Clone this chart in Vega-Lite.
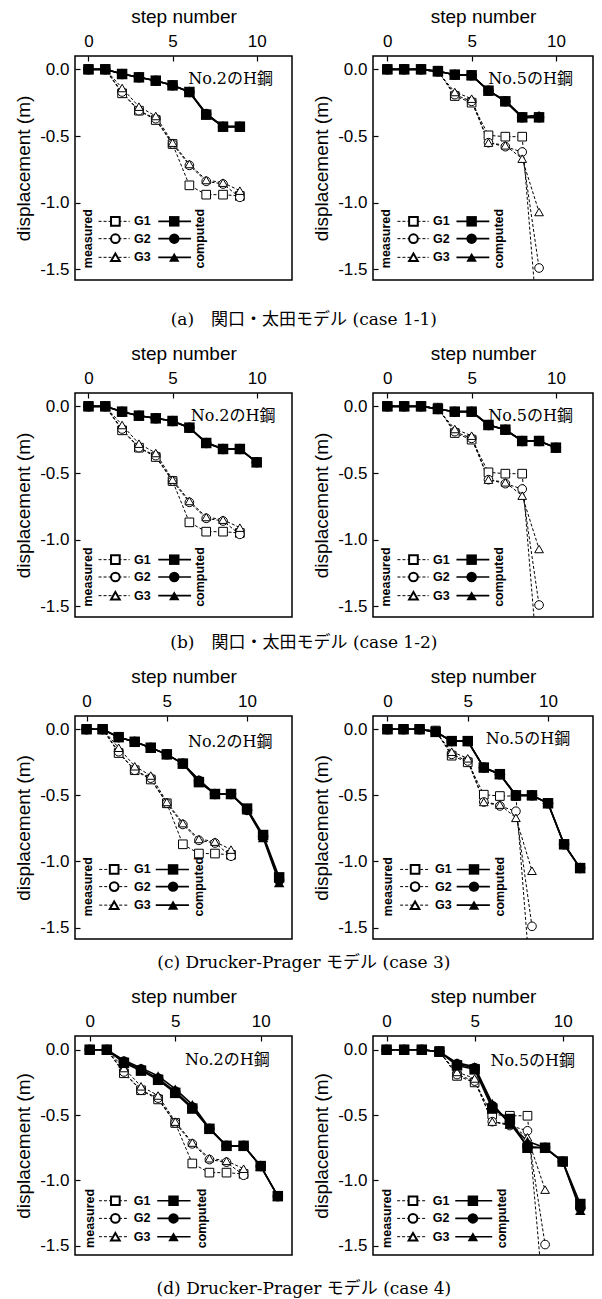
{
"$schema":"https://vega.github.io/schema/vega-lite/v6.json",
"background":"white",
"padding":{"left":13,"top":6,"right":4,"bottom":4},
"config":{
 "view":{"stroke":"black","strokeWidth":1.5},
 "axis":{"grid":false,"domain":false,"tickColor":"black","tickSize":-5,"tickWidth":1.2,"labelColor":"black","titleColor":"black","labelFont":"Liberation Sans","titleFont":"Liberation Sans","labelFontSize":17,"titleFontSize":19,"titleFontWeight":"normal","labelPadding":11,"titlePadding":6},
 "mark":{"color":"black"},
 "point":{"opacity":1},
 "text":{"font":"Liberation Sans","fontSize":12.5,"fontWeight":"bold","align":"center","baseline":"middle"},
 "title":{"font":"DejaVu Serif, Noto Sans CJK JP","fontSize":17,"fontWeight":"normal","color":"black","anchor":"middle"},
 "locale":{"number":{"decimal":".","thousands":",","grouping":[3],"currency":["$",""],"minus":"-"}}
},
"datasets":{
"m2":[{"s":0,"G1":0,"G2":0,"G3":0},{"s":1,"G1":0,"G2":0,"G3":0},{"s":2,"G1":-0.18,"G2":-0.17,"G3":-0.14},{"s":3,"G1":-0.31,"G2":-0.31,"G3":-0.28},{"s":4,"G1":-0.38,"G2":-0.37,"G3":-0.35},{"s":5,"G1":-0.56,"G2":-0.56,"G3":-0.55},{"s":6,"G1":-0.87,"G2":-0.72,"G3":-0.71},{"s":7,"G1":-0.94,"G2":-0.84,"G3":-0.83},{"s":8,"G1":-0.94,"G2":-0.86,"G3":-0.85},{"s":9,"G1":-0.95,"G2":-0.96,"G3":-0.91}],
"m5":[{"s":0,"G1":0,"G2":0,"G3":0},{"s":1,"G1":0,"G2":0,"G3":0},{"s":2,"G1":0,"G2":0,"G3":0},{"s":3,"G1":-0.01,"G2":-0.015,"G3":-0.02},{"s":4,"G1":-0.2,"G2":-0.19,"G3":-0.17},{"s":5,"G1":-0.25,"G2":-0.24,"G3":-0.22},{"s":6,"G1":-0.495,"G2":-0.55,"G3":-0.55},{"s":7,"G1":-0.505,"G2":-0.58,"G3":-0.57},{"s":8,"G1":-0.505,"G2":-0.62,"G3":-0.67},{"s":9,"G1":-2.05,"G2":-1.49,"G3":-1.07}],
"c11_2":[{"s":0,"G1":0,"G2":0,"G3":0},{"s":1,"G1":0,"G2":0,"G3":0},{"s":2,"G1":-0.035,"G2":-0.035,"G3":-0.035},{"s":3,"G1":-0.06,"G2":-0.06,"G3":-0.06},{"s":4,"G1":-0.085,"G2":-0.085,"G3":-0.085},{"s":5,"G1":-0.12,"G2":-0.12,"G3":-0.12},{"s":6,"G1":-0.17,"G2":-0.17,"G3":-0.17},{"s":7,"G1":-0.34,"G2":-0.335,"G3":-0.33},{"s":8,"G1":-0.43,"G2":-0.43,"G3":-0.43},{"s":9,"G1":-0.43,"G2":-0.43,"G3":-0.43}],
"c11_5":[{"s":0,"G1":0,"G2":0,"G3":0},{"s":1,"G1":0,"G2":0,"G3":0},{"s":2,"G1":0,"G2":0,"G3":0},{"s":3,"G1":-0.015,"G2":-0.015,"G3":-0.015},{"s":4,"G1":-0.04,"G2":-0.04,"G3":-0.04},{"s":5,"G1":-0.045,"G2":-0.045,"G3":-0.045},{"s":6,"G1":-0.16,"G2":-0.16,"G3":-0.16},{"s":7,"G1":-0.24,"G2":-0.24,"G3":-0.235},{"s":8,"G1":-0.36,"G2":-0.36,"G3":-0.355},{"s":9,"G1":-0.36,"G2":-0.36,"G3":-0.345}],
"c12_2":[{"s":0,"G1":0,"G2":0,"G3":0},{"s":1,"G1":0,"G2":0,"G3":0},{"s":2,"G1":-0.04,"G2":-0.04,"G3":-0.04},{"s":3,"G1":-0.07,"G2":-0.07,"G3":-0.07},{"s":4,"G1":-0.09,"G2":-0.09,"G3":-0.09},{"s":5,"G1":-0.11,"G2":-0.11,"G3":-0.11},{"s":6,"G1":-0.16,"G2":-0.16,"G3":-0.16},{"s":7,"G1":-0.275,"G2":-0.275,"G3":-0.27},{"s":8,"G1":-0.32,"G2":-0.32,"G3":-0.32},{"s":9,"G1":-0.32,"G2":-0.32,"G3":-0.32},{"s":10,"G1":-0.42,"G2":-0.42,"G3":-0.42}],
"c12_5":[{"s":0,"G1":0,"G2":0,"G3":0},{"s":1,"G1":0,"G2":0,"G3":0},{"s":2,"G1":0,"G2":0,"G3":0},{"s":3,"G1":-0.02,"G2":-0.02,"G3":-0.02},{"s":4,"G1":-0.04,"G2":-0.04,"G3":-0.04},{"s":5,"G1":-0.04,"G2":-0.04,"G3":-0.04},{"s":6,"G1":-0.14,"G2":-0.14,"G3":-0.14},{"s":7,"G1":-0.175,"G2":-0.175,"G3":-0.175},{"s":8,"G1":-0.26,"G2":-0.26,"G3":-0.26},{"s":9,"G1":-0.26,"G2":-0.26,"G3":-0.26},{"s":10,"G1":-0.31,"G2":-0.31,"G3":-0.31}],
"c3_2":[{"s":0,"G1":0,"G2":0,"G3":0},{"s":1,"G1":0,"G2":0,"G3":0},{"s":2,"G1":-0.06,"G2":-0.06,"G3":-0.06},{"s":3,"G1":-0.095,"G2":-0.095,"G3":-0.095},{"s":4,"G1":-0.14,"G2":-0.14,"G3":-0.14},{"s":5,"G1":-0.19,"G2":-0.19,"G3":-0.19},{"s":6,"G1":-0.26,"G2":-0.26,"G3":-0.26},{"s":7,"G1":-0.4,"G2":-0.39,"G3":-0.38},{"s":8,"G1":-0.49,"G2":-0.49,"G3":-0.49},{"s":9,"G1":-0.49,"G2":-0.49,"G3":-0.49},{"s":10,"G1":-0.6,"G2":-0.61,"G3":-0.61},{"s":11,"G1":-0.8,"G2":-0.81,"G3":-0.82},{"s":12,"G1":-1.12,"G2":-1.14,"G3":-1.16}],
"c3_5":[{"s":0,"G1":0,"G2":0,"G3":0},{"s":1,"G1":0,"G2":0,"G3":0},{"s":2,"G1":0,"G2":0,"G3":0},{"s":3,"G1":-0.02,"G2":-0.02,"G3":-0.02},{"s":4,"G1":-0.09,"G2":-0.09,"G3":-0.09},{"s":5,"G1":-0.09,"G2":-0.09,"G3":-0.09},{"s":6,"G1":-0.29,"G2":-0.29,"G3":-0.29},{"s":7,"G1":-0.34,"G2":-0.34,"G3":-0.34},{"s":8,"G1":-0.5,"G2":-0.5,"G3":-0.5},{"s":9,"G1":-0.5,"G2":-0.5,"G3":-0.5},{"s":10,"G1":-0.56,"G2":-0.56,"G3":-0.56},{"s":11,"G1":-0.87,"G2":-0.87,"G3":-0.87},{"s":12,"G1":-1.05,"G2":-1.05,"G3":-1.05}],
"c4_2":[{"s":0,"G1":0,"G2":0,"G3":0},{"s":1,"G1":0,"G2":0,"G3":0},{"s":2,"G1":-0.1,"G2":-0.09,"G3":-0.08},{"s":3,"G1":-0.16,"G2":-0.15,"G3":-0.14},{"s":4,"G1":-0.23,"G2":-0.22,"G3":-0.2},{"s":5,"G1":-0.33,"G2":-0.32,"G3":-0.3},{"s":6,"G1":-0.45,"G2":-0.44,"G3":-0.42},{"s":7,"G1":-0.605,"G2":-0.605,"G3":-0.6},{"s":8,"G1":-0.735,"G2":-0.735,"G3":-0.735},{"s":9,"G1":-0.735,"G2":-0.735,"G3":-0.735},{"s":10,"G1":-0.89,"G2":-0.89,"G3":-0.89},{"s":11,"G1":-1.12,"G2":-1.12,"G3":-1.12}],
"c4_5":[{"s":0,"G1":0,"G2":0,"G3":0},{"s":1,"G1":0,"G2":0,"G3":0},{"s":2,"G1":0,"G2":0,"G3":0},{"s":3,"G1":-0.015,"G2":-0.015,"G3":-0.015},{"s":4,"G1":-0.12,"G2":-0.11,"G3":-0.1},{"s":5,"G1":-0.15,"G2":-0.14,"G3":-0.13},{"s":6,"G1":-0.45,"G2":-0.43,"G3":-0.41},{"s":7,"G1":-0.53,"G2":-0.56,"G3":-0.57},{"s":8,"G1":-0.75,"G2":-0.74,"G3":-0.7},{"s":9,"G1":-0.75,"G2":-0.75,"G3":-0.75},{"s":10,"G1":-0.855,"G2":-0.855,"G3":-0.855},{"s":11,"G1":-1.18,"G2":-1.21,"G3":-1.23}]
},
"spacing":15,
"vconcat":[
{"spacing":18,"title":{"text":"(a)　関口・太田モデル  (case 1-1)","orient":"bottom","offset":31},
"hconcat":[
{"width":217,"height":224,"data":{"values":[{}]},
"layer":[
{"encoding":{"x":{"field":"s","type":"quantitative","title":"step number","scale":{"domain":[-0.8,12.1],"nice":false,"zero":false},"axis":{"orient":"top","values":[0,5,10]}},"y":{"field":"d","type":"quantitative","title":"displacement (m)","scale":{"domain":[-1.58,0.1],"nice":false,"zero":false},"axis":{"values":[0,-0.5,-1,-1.5],"format":".1f"}}},
"layer":[
{"data":{"name":"m2"},"transform":[{"fold":["G1","G2","G3"],"as":["g","d"]}],"mark":{"type":"line","strokeDash":[3,2],"strokeWidth":1,"clip":true},"encoding":{"detail":{"field":"g"}}},
{"data":{"name":"c11_2"},"transform":[{"fold":["G1","G2","G3"],"as":["g","d"]}],"mark":{"type":"line","strokeWidth":1.6,"clip":true},"encoding":{"detail":{"field":"g"}}},
{"data":{"name":"m2"},"transform":[{"fold":["G1","G2","G3"],"as":["g","d"]}],"mark":{"type":"point","fill":"white","stroke":"black","strokeWidth":1,"size":75,"clip":true},"encoding":{"shape":{"field":"g","type":"nominal","scale":{"domain":["G1","G2","G3"],"range":["square","circle","triangle-up"]},"legend":null}}},
{"data":{"name":"c11_2"},"transform":[{"fold":["G1","G2","G3"],"as":["g","d"]}],"mark":{"type":"point","filled":true,"size":110,"clip":true},"encoding":{"shape":{"field":"g","type":"nominal","scale":{"domain":["G1","G2","G3"],"range":["square","circle","triangle-up"]},"legend":null}}}
]},
{"mark":{"type":"text","text":"No.2のH鋼","font":"DejaVu Serif, Noto Sans CJK JP","fontSize":16,"fontWeight":"normal"},"encoding":{"x":{"datum":8.45},"y":{"datum":-0.07}}},
{"mark":{"type":"text","text":"measured","angle":270},"encoding":{"x":{"datum":0},"y":{"datum":-1.27}}},
{"mark":{"type":"text","text":"computed","angle":270},"encoding":{"x":{"datum":6.65},"y":{"datum":-1.27}}},
{"mark":{"type":"rule","strokeDash":[3,2]},"encoding":{"x":{"datum":0.6},"x2":{"datum":2.45},"y":{"datum":-1.14}}},
{"mark":{"type":"rule","strokeDash":[3,2]},"encoding":{"x":{"datum":0.6},"x2":{"datum":2.45},"y":{"datum":-1.27}}},
{"mark":{"type":"rule","strokeDash":[3,2]},"encoding":{"x":{"datum":0.6},"x2":{"datum":2.45},"y":{"datum":-1.41}}},
{"mark":{"type":"rule","strokeWidth":1.6},"encoding":{"x":{"datum":4.15},"x2":{"datum":6.1},"y":{"datum":-1.14}}},
{"mark":{"type":"rule","strokeWidth":1.6},"encoding":{"x":{"datum":4.15},"x2":{"datum":6.1},"y":{"datum":-1.27}}},
{"mark":{"type":"rule","strokeWidth":1.6},"encoding":{"x":{"datum":4.15},"x2":{"datum":6.1},"y":{"datum":-1.41}}},
{"mark":{"type":"point","shape":"square","fill":"white","stroke":"black","size":75},"encoding":{"x":{"datum":1.6},"y":{"datum":-1.14}}},
{"mark":{"type":"point","shape":"circle","fill":"white","stroke":"black","size":75},"encoding":{"x":{"datum":1.6},"y":{"datum":-1.27}}},
{"mark":{"type":"point","shape":"triangle-up","fill":"white","stroke":"black","size":75},"encoding":{"x":{"datum":1.6},"y":{"datum":-1.41}}},
{"mark":{"type":"point","shape":"square","filled":true,"size":110},"encoding":{"x":{"datum":5.1},"y":{"datum":-1.14}}},
{"mark":{"type":"point","shape":"circle","filled":true,"size":110},"encoding":{"x":{"datum":5.1},"y":{"datum":-1.27}}},
{"mark":{"type":"point","shape":"triangle-up","filled":true,"size":110},"encoding":{"x":{"datum":5.1},"y":{"datum":-1.41}}},
{"mark":{"type":"text","text":"G1"},"encoding":{"x":{"datum":3.2},"y":{"datum":-1.14}}},
{"mark":{"type":"text","text":"G2"},"encoding":{"x":{"datum":3.2},"y":{"datum":-1.27}}},
{"mark":{"type":"text","text":"G3"},"encoding":{"x":{"datum":3.2},"y":{"datum":-1.41}}}
]},
{"width":220,"height":224,"data":{"values":[{}]},
"layer":[
{"encoding":{"x":{"field":"s","type":"quantitative","title":"step number","scale":{"domain":[-0.85,12.2],"nice":false,"zero":false},"axis":{"orient":"top","values":[0,5,10]}},"y":{"field":"d","type":"quantitative","title":"displacement (m)","scale":{"domain":[-1.58,0.1],"nice":false,"zero":false},"axis":{"values":[0,-0.5,-1,-1.5],"format":".1f"}}},
"layer":[
{"data":{"name":"m5"},"transform":[{"fold":["G1","G2","G3"],"as":["g","d"]}],"mark":{"type":"line","strokeDash":[3,2],"strokeWidth":1,"clip":true},"encoding":{"detail":{"field":"g"}}},
{"data":{"name":"c11_5"},"transform":[{"fold":["G1","G2","G3"],"as":["g","d"]}],"mark":{"type":"line","strokeWidth":1.6,"clip":true},"encoding":{"detail":{"field":"g"}}},
{"data":{"name":"m5"},"transform":[{"fold":["G1","G2","G3"],"as":["g","d"]}],"mark":{"type":"point","fill":"white","stroke":"black","strokeWidth":1,"size":75,"clip":true},"encoding":{"shape":{"field":"g","type":"nominal","scale":{"domain":["G1","G2","G3"],"range":["square","circle","triangle-up"]},"legend":null}}},
{"data":{"name":"c11_5"},"transform":[{"fold":["G1","G2","G3"],"as":["g","d"]}],"mark":{"type":"point","filled":true,"size":110,"clip":true},"encoding":{"shape":{"field":"g","type":"nominal","scale":{"domain":["G1","G2","G3"],"range":["square","circle","triangle-up"]},"legend":null}}}
]},
{"mark":{"type":"text","text":"No.5のH鋼","font":"DejaVu Serif, Noto Sans CJK JP","fontSize":16,"fontWeight":"normal"},"encoding":{"x":{"datum":8.5},"y":{"datum":-0.075}}},
{"mark":{"type":"text","text":"measured","angle":270},"encoding":{"x":{"datum":-0.05},"y":{"datum":-1.27}}},
{"mark":{"type":"text","text":"computed","angle":270},"encoding":{"x":{"datum":6.65},"y":{"datum":-1.27}}},
{"mark":{"type":"rule","strokeDash":[3,2]},"encoding":{"x":{"datum":0.6},"x2":{"datum":2.45},"y":{"datum":-1.14}}},
{"mark":{"type":"rule","strokeDash":[3,2]},"encoding":{"x":{"datum":0.6},"x2":{"datum":2.45},"y":{"datum":-1.27}}},
{"mark":{"type":"rule","strokeDash":[3,2]},"encoding":{"x":{"datum":0.6},"x2":{"datum":2.45},"y":{"datum":-1.41}}},
{"mark":{"type":"rule","strokeWidth":1.6},"encoding":{"x":{"datum":4.1},"x2":{"datum":6.05},"y":{"datum":-1.14}}},
{"mark":{"type":"rule","strokeWidth":1.6},"encoding":{"x":{"datum":4.1},"x2":{"datum":6.05},"y":{"datum":-1.27}}},
{"mark":{"type":"rule","strokeWidth":1.6},"encoding":{"x":{"datum":4.1},"x2":{"datum":6.05},"y":{"datum":-1.41}}},
{"mark":{"type":"point","shape":"square","fill":"white","stroke":"black","size":75},"encoding":{"x":{"datum":1.55},"y":{"datum":-1.14}}},
{"mark":{"type":"point","shape":"circle","fill":"white","stroke":"black","size":75},"encoding":{"x":{"datum":1.55},"y":{"datum":-1.27}}},
{"mark":{"type":"point","shape":"triangle-up","fill":"white","stroke":"black","size":75},"encoding":{"x":{"datum":1.55},"y":{"datum":-1.41}}},
{"mark":{"type":"point","shape":"square","filled":true,"size":110},"encoding":{"x":{"datum":5.0},"y":{"datum":-1.14}}},
{"mark":{"type":"point","shape":"circle","filled":true,"size":110},"encoding":{"x":{"datum":5.0},"y":{"datum":-1.27}}},
{"mark":{"type":"point","shape":"triangle-up","filled":true,"size":110},"encoding":{"x":{"datum":5.0},"y":{"datum":-1.41}}},
{"mark":{"type":"text","text":"G1"},"encoding":{"x":{"datum":3.2},"y":{"datum":-1.14}}},
{"mark":{"type":"text","text":"G2"},"encoding":{"x":{"datum":3.2},"y":{"datum":-1.27}}},
{"mark":{"type":"text","text":"G3"},"encoding":{"x":{"datum":3.2},"y":{"datum":-1.41}}}
]}
]},
{"spacing":18,"title":{"text":"(b)　関口・太田モデル  (case 1-2)","orient":"bottom","offset":17},
"hconcat":[
{"width":217,"height":224,"data":{"values":[{}]},
"layer":[
{"encoding":{"x":{"field":"s","type":"quantitative","title":"step number","scale":{"domain":[-0.8,12.1],"nice":false,"zero":false},"axis":{"orient":"top","values":[0,5,10]}},"y":{"field":"d","type":"quantitative","title":"displacement (m)","scale":{"domain":[-1.58,0.1],"nice":false,"zero":false},"axis":{"values":[0,-0.5,-1,-1.5],"format":".1f"}}},
"layer":[
{"data":{"name":"m2"},"transform":[{"fold":["G1","G2","G3"],"as":["g","d"]}],"mark":{"type":"line","strokeDash":[3,2],"strokeWidth":1,"clip":true},"encoding":{"detail":{"field":"g"}}},
{"data":{"name":"c12_2"},"transform":[{"fold":["G1","G2","G3"],"as":["g","d"]}],"mark":{"type":"line","strokeWidth":1.6,"clip":true},"encoding":{"detail":{"field":"g"}}},
{"data":{"name":"m2"},"transform":[{"fold":["G1","G2","G3"],"as":["g","d"]}],"mark":{"type":"point","fill":"white","stroke":"black","strokeWidth":1,"size":75,"clip":true},"encoding":{"shape":{"field":"g","type":"nominal","scale":{"domain":["G1","G2","G3"],"range":["square","circle","triangle-up"]},"legend":null}}},
{"data":{"name":"c12_2"},"transform":[{"fold":["G1","G2","G3"],"as":["g","d"]}],"mark":{"type":"point","filled":true,"size":110,"clip":true},"encoding":{"shape":{"field":"g","type":"nominal","scale":{"domain":["G1","G2","G3"],"range":["square","circle","triangle-up"]},"legend":null}}}
]},
{"mark":{"type":"text","text":"No.2のH鋼","font":"DejaVu Serif, Noto Sans CJK JP","fontSize":16,"fontWeight":"normal"},"encoding":{"x":{"datum":8.6},"y":{"datum":-0.07}}},
{"mark":{"type":"text","text":"measured","angle":270},"encoding":{"x":{"datum":0},"y":{"datum":-1.28}}},
{"mark":{"type":"text","text":"computed","angle":270},"encoding":{"x":{"datum":6.65},"y":{"datum":-1.28}}},
{"mark":{"type":"rule","strokeDash":[3,2]},"encoding":{"x":{"datum":0.6},"x2":{"datum":2.45},"y":{"datum":-1.15}}},
{"mark":{"type":"rule","strokeDash":[3,2]},"encoding":{"x":{"datum":0.6},"x2":{"datum":2.45},"y":{"datum":-1.28}}},
{"mark":{"type":"rule","strokeDash":[3,2]},"encoding":{"x":{"datum":0.6},"x2":{"datum":2.45},"y":{"datum":-1.42}}},
{"mark":{"type":"rule","strokeWidth":1.6},"encoding":{"x":{"datum":4.15},"x2":{"datum":6.1},"y":{"datum":-1.15}}},
{"mark":{"type":"rule","strokeWidth":1.6},"encoding":{"x":{"datum":4.15},"x2":{"datum":6.1},"y":{"datum":-1.28}}},
{"mark":{"type":"rule","strokeWidth":1.6},"encoding":{"x":{"datum":4.15},"x2":{"datum":6.1},"y":{"datum":-1.42}}},
{"mark":{"type":"point","shape":"square","fill":"white","stroke":"black","size":75},"encoding":{"x":{"datum":1.6},"y":{"datum":-1.15}}},
{"mark":{"type":"point","shape":"circle","fill":"white","stroke":"black","size":75},"encoding":{"x":{"datum":1.6},"y":{"datum":-1.28}}},
{"mark":{"type":"point","shape":"triangle-up","fill":"white","stroke":"black","size":75},"encoding":{"x":{"datum":1.6},"y":{"datum":-1.42}}},
{"mark":{"type":"point","shape":"square","filled":true,"size":110},"encoding":{"x":{"datum":5.1},"y":{"datum":-1.15}}},
{"mark":{"type":"point","shape":"circle","filled":true,"size":110},"encoding":{"x":{"datum":5.1},"y":{"datum":-1.28}}},
{"mark":{"type":"point","shape":"triangle-up","filled":true,"size":110},"encoding":{"x":{"datum":5.1},"y":{"datum":-1.42}}},
{"mark":{"type":"text","text":"G1"},"encoding":{"x":{"datum":3.2},"y":{"datum":-1.15}}},
{"mark":{"type":"text","text":"G2"},"encoding":{"x":{"datum":3.2},"y":{"datum":-1.28}}},
{"mark":{"type":"text","text":"G3"},"encoding":{"x":{"datum":3.2},"y":{"datum":-1.42}}}
]},
{"width":220,"height":224,"data":{"values":[{}]},
"layer":[
{"encoding":{"x":{"field":"s","type":"quantitative","title":"step number","scale":{"domain":[-0.85,12.2],"nice":false,"zero":false},"axis":{"orient":"top","values":[0,5,10]}},"y":{"field":"d","type":"quantitative","title":"displacement (m)","scale":{"domain":[-1.58,0.1],"nice":false,"zero":false},"axis":{"values":[0,-0.5,-1,-1.5],"format":".1f"}}},
"layer":[
{"data":{"name":"m5"},"transform":[{"fold":["G1","G2","G3"],"as":["g","d"]}],"mark":{"type":"line","strokeDash":[3,2],"strokeWidth":1,"clip":true},"encoding":{"detail":{"field":"g"}}},
{"data":{"name":"c12_5"},"transform":[{"fold":["G1","G2","G3"],"as":["g","d"]}],"mark":{"type":"line","strokeWidth":1.6,"clip":true},"encoding":{"detail":{"field":"g"}}},
{"data":{"name":"m5"},"transform":[{"fold":["G1","G2","G3"],"as":["g","d"]}],"mark":{"type":"point","fill":"white","stroke":"black","strokeWidth":1,"size":75,"clip":true},"encoding":{"shape":{"field":"g","type":"nominal","scale":{"domain":["G1","G2","G3"],"range":["square","circle","triangle-up"]},"legend":null}}},
{"data":{"name":"c12_5"},"transform":[{"fold":["G1","G2","G3"],"as":["g","d"]}],"mark":{"type":"point","filled":true,"size":110,"clip":true},"encoding":{"shape":{"field":"g","type":"nominal","scale":{"domain":["G1","G2","G3"],"range":["square","circle","triangle-up"]},"legend":null}}}
]},
{"mark":{"type":"text","text":"No.5のH鋼","font":"DejaVu Serif, Noto Sans CJK JP","fontSize":16,"fontWeight":"normal"},"encoding":{"x":{"datum":8.5},"y":{"datum":-0.07}}},
{"mark":{"type":"text","text":"measured","angle":270},"encoding":{"x":{"datum":-0.05},"y":{"datum":-1.28}}},
{"mark":{"type":"text","text":"computed","angle":270},"encoding":{"x":{"datum":6.65},"y":{"datum":-1.28}}},
{"mark":{"type":"rule","strokeDash":[3,2]},"encoding":{"x":{"datum":0.6},"x2":{"datum":2.45},"y":{"datum":-1.15}}},
{"mark":{"type":"rule","strokeDash":[3,2]},"encoding":{"x":{"datum":0.6},"x2":{"datum":2.45},"y":{"datum":-1.28}}},
{"mark":{"type":"rule","strokeDash":[3,2]},"encoding":{"x":{"datum":0.6},"x2":{"datum":2.45},"y":{"datum":-1.42}}},
{"mark":{"type":"rule","strokeWidth":1.6},"encoding":{"x":{"datum":4.1},"x2":{"datum":6.05},"y":{"datum":-1.15}}},
{"mark":{"type":"rule","strokeWidth":1.6},"encoding":{"x":{"datum":4.1},"x2":{"datum":6.05},"y":{"datum":-1.28}}},
{"mark":{"type":"rule","strokeWidth":1.6},"encoding":{"x":{"datum":4.1},"x2":{"datum":6.05},"y":{"datum":-1.42}}},
{"mark":{"type":"point","shape":"square","fill":"white","stroke":"black","size":75},"encoding":{"x":{"datum":1.55},"y":{"datum":-1.15}}},
{"mark":{"type":"point","shape":"circle","fill":"white","stroke":"black","size":75},"encoding":{"x":{"datum":1.55},"y":{"datum":-1.28}}},
{"mark":{"type":"point","shape":"triangle-up","fill":"white","stroke":"black","size":75},"encoding":{"x":{"datum":1.55},"y":{"datum":-1.42}}},
{"mark":{"type":"point","shape":"square","filled":true,"size":110},"encoding":{"x":{"datum":5.0},"y":{"datum":-1.15}}},
{"mark":{"type":"point","shape":"circle","filled":true,"size":110},"encoding":{"x":{"datum":5.0},"y":{"datum":-1.28}}},
{"mark":{"type":"point","shape":"triangle-up","filled":true,"size":110},"encoding":{"x":{"datum":5.0},"y":{"datum":-1.42}}},
{"mark":{"type":"text","text":"G1"},"encoding":{"x":{"datum":3.2},"y":{"datum":-1.15}}},
{"mark":{"type":"text","text":"G2"},"encoding":{"x":{"datum":3.2},"y":{"datum":-1.28}}},
{"mark":{"type":"text","text":"G3"},"encoding":{"x":{"datum":3.2},"y":{"datum":-1.42}}}
]}
]},
{"spacing":18,"title":{"text":"(c)  Drucker-Prager モデル  (case 3)","orient":"bottom","offset":15},
"hconcat":[
{"width":217,"height":223,"data":{"values":[{}]},
"layer":[
{"encoding":{"x":{"field":"s","type":"quantitative","title":"step number","scale":{"domain":[-0.72,12.8],"nice":false,"zero":false},"axis":{"orient":"top","values":[0,5,10]}},"y":{"field":"d","type":"quantitative","title":"displacement (m)","scale":{"domain":[-1.586,0.1],"nice":false,"zero":false},"axis":{"values":[0,-0.5,-1,-1.5],"format":".1f"}}},
"layer":[
{"data":{"name":"m2"},"transform":[{"fold":["G1","G2","G3"],"as":["g","d"]}],"mark":{"type":"line","strokeDash":[3,2],"strokeWidth":1,"clip":true},"encoding":{"detail":{"field":"g"}}},
{"data":{"name":"c3_2"},"transform":[{"fold":["G1","G2","G3"],"as":["g","d"]}],"mark":{"type":"line","strokeWidth":1.6,"clip":true},"encoding":{"detail":{"field":"g"}}},
{"data":{"name":"m2"},"transform":[{"fold":["G1","G2","G3"],"as":["g","d"]}],"mark":{"type":"point","fill":"white","stroke":"black","strokeWidth":1,"size":75,"clip":true},"encoding":{"shape":{"field":"g","type":"nominal","scale":{"domain":["G1","G2","G3"],"range":["square","circle","triangle-up"]},"legend":null}}},
{"data":{"name":"c3_2"},"transform":[{"fold":["G1","G2","G3"],"as":["g","d"]}],"mark":{"type":"point","filled":true,"size":110,"clip":true},"encoding":{"shape":{"field":"g","type":"nominal","scale":{"domain":["G1","G2","G3"],"range":["square","circle","triangle-up"]},"legend":null}}}
]},
{"mark":{"type":"text","text":"No.2のH鋼","font":"DejaVu Serif, Noto Sans CJK JP","fontSize":16,"fontWeight":"normal"},"encoding":{"x":{"datum":8.95},"y":{"datum":-0.1}}},
{"mark":{"type":"text","text":"measured","angle":270},"encoding":{"x":{"datum":0.12},"y":{"datum":-1.19}}},
{"mark":{"type":"text","text":"computed","angle":270},"encoding":{"x":{"datum":7.0},"y":{"datum":-1.19}}},
{"mark":{"type":"rule","strokeDash":[3,2]},"encoding":{"x":{"datum":0.79},"x2":{"datum":2.65},"y":{"datum":-1.06}}},
{"mark":{"type":"rule","strokeDash":[3,2]},"encoding":{"x":{"datum":0.79},"x2":{"datum":2.65},"y":{"datum":-1.19}}},
{"mark":{"type":"rule","strokeDash":[3,2]},"encoding":{"x":{"datum":0.79},"x2":{"datum":2.65},"y":{"datum":-1.33}}},
{"mark":{"type":"rule","strokeWidth":1.6},"encoding":{"x":{"datum":4.31},"x2":{"datum":6.38},"y":{"datum":-1.06}}},
{"mark":{"type":"rule","strokeWidth":1.6},"encoding":{"x":{"datum":4.31},"x2":{"datum":6.38},"y":{"datum":-1.19}}},
{"mark":{"type":"rule","strokeWidth":1.6},"encoding":{"x":{"datum":4.31},"x2":{"datum":6.38},"y":{"datum":-1.33}}},
{"mark":{"type":"point","shape":"square","fill":"white","stroke":"black","size":75},"encoding":{"x":{"datum":1.72},"y":{"datum":-1.06}}},
{"mark":{"type":"point","shape":"circle","fill":"white","stroke":"black","size":75},"encoding":{"x":{"datum":1.72},"y":{"datum":-1.19}}},
{"mark":{"type":"point","shape":"triangle-up","fill":"white","stroke":"black","size":75},"encoding":{"x":{"datum":1.72},"y":{"datum":-1.33}}},
{"mark":{"type":"point","shape":"square","filled":true,"size":110},"encoding":{"x":{"datum":5.39},"y":{"datum":-1.06}}},
{"mark":{"type":"point","shape":"circle","filled":true,"size":110},"encoding":{"x":{"datum":5.39},"y":{"datum":-1.19}}},
{"mark":{"type":"point","shape":"triangle-up","filled":true,"size":110},"encoding":{"x":{"datum":5.39},"y":{"datum":-1.33}}},
{"mark":{"type":"text","text":"G1"},"encoding":{"x":{"datum":3.48},"y":{"datum":-1.06}}},
{"mark":{"type":"text","text":"G2"},"encoding":{"x":{"datum":3.48},"y":{"datum":-1.19}}},
{"mark":{"type":"text","text":"G3"},"encoding":{"x":{"datum":3.48},"y":{"datum":-1.33}}}
]},
{"width":220,"height":223,"data":{"values":[{}]},
"layer":[
{"encoding":{"x":{"field":"s","type":"quantitative","title":"step number","scale":{"domain":[-0.9,12.8],"nice":false,"zero":false},"axis":{"orient":"top","values":[0,5,10]}},"y":{"field":"d","type":"quantitative","title":"displacement (m)","scale":{"domain":[-1.586,0.1],"nice":false,"zero":false},"axis":{"values":[0,-0.5,-1,-1.5],"format":".1f"}}},
"layer":[
{"data":{"name":"m5"},"transform":[{"fold":["G1","G2","G3"],"as":["g","d"]}],"mark":{"type":"line","strokeDash":[3,2],"strokeWidth":1,"clip":true},"encoding":{"detail":{"field":"g"}}},
{"data":{"name":"c3_5"},"transform":[{"fold":["G1","G2","G3"],"as":["g","d"]}],"mark":{"type":"line","strokeWidth":1.6,"clip":true},"encoding":{"detail":{"field":"g"}}},
{"data":{"name":"m5"},"transform":[{"fold":["G1","G2","G3"],"as":["g","d"]}],"mark":{"type":"point","fill":"white","stroke":"black","strokeWidth":1,"size":75,"clip":true},"encoding":{"shape":{"field":"g","type":"nominal","scale":{"domain":["G1","G2","G3"],"range":["square","circle","triangle-up"]},"legend":null}}},
{"data":{"name":"c3_5"},"transform":[{"fold":["G1","G2","G3"],"as":["g","d"]}],"mark":{"type":"point","filled":true,"size":110,"clip":true},"encoding":{"shape":{"field":"g","type":"nominal","scale":{"domain":["G1","G2","G3"],"range":["square","circle","triangle-up"]},"legend":null}}}
]},
{"mark":{"type":"text","text":"No.5のH鋼","font":"DejaVu Serif, Noto Sans CJK JP","fontSize":16,"fontWeight":"normal"},"encoding":{"x":{"datum":8.75},"y":{"datum":-0.076}}},
{"mark":{"type":"text","text":"measured","angle":270},"encoding":{"x":{"datum":0.05},"y":{"datum":-1.19}}},
{"mark":{"type":"text","text":"computed","angle":270},"encoding":{"x":{"datum":7.0},"y":{"datum":-1.19}}},
{"mark":{"type":"rule","strokeDash":[3,2]},"encoding":{"x":{"datum":0.79},"x2":{"datum":2.65},"y":{"datum":-1.06}}},
{"mark":{"type":"rule","strokeDash":[3,2]},"encoding":{"x":{"datum":0.79},"x2":{"datum":2.65},"y":{"datum":-1.19}}},
{"mark":{"type":"rule","strokeDash":[3,2]},"encoding":{"x":{"datum":0.79},"x2":{"datum":2.65},"y":{"datum":-1.33}}},
{"mark":{"type":"rule","strokeWidth":1.6},"encoding":{"x":{"datum":4.31},"x2":{"datum":6.38},"y":{"datum":-1.06}}},
{"mark":{"type":"rule","strokeWidth":1.6},"encoding":{"x":{"datum":4.31},"x2":{"datum":6.38},"y":{"datum":-1.19}}},
{"mark":{"type":"rule","strokeWidth":1.6},"encoding":{"x":{"datum":4.31},"x2":{"datum":6.38},"y":{"datum":-1.33}}},
{"mark":{"type":"point","shape":"square","fill":"white","stroke":"black","size":75},"encoding":{"x":{"datum":1.72},"y":{"datum":-1.06}}},
{"mark":{"type":"point","shape":"circle","fill":"white","stroke":"black","size":75},"encoding":{"x":{"datum":1.72},"y":{"datum":-1.19}}},
{"mark":{"type":"point","shape":"triangle-up","fill":"white","stroke":"black","size":75},"encoding":{"x":{"datum":1.72},"y":{"datum":-1.33}}},
{"mark":{"type":"point","shape":"square","filled":true,"size":110},"encoding":{"x":{"datum":5.39},"y":{"datum":-1.06}}},
{"mark":{"type":"point","shape":"circle","filled":true,"size":110},"encoding":{"x":{"datum":5.39},"y":{"datum":-1.19}}},
{"mark":{"type":"point","shape":"triangle-up","filled":true,"size":110},"encoding":{"x":{"datum":5.39},"y":{"datum":-1.33}}},
{"mark":{"type":"text","text":"G1"},"encoding":{"x":{"datum":3.48},"y":{"datum":-1.06}}},
{"mark":{"type":"text","text":"G2"},"encoding":{"x":{"datum":3.48},"y":{"datum":-1.19}}},
{"mark":{"type":"text","text":"G3"},"encoding":{"x":{"datum":3.48},"y":{"datum":-1.33}}}
]}
]},
{"spacing":18,"title":{"text":"(d)  Drucker-Prager モデル  (case 4)","orient":"bottom","offset":25},
"hconcat":[
{"width":217,"height":219,"data":{"values":[{}]},
"layer":[
{"encoding":{"x":{"field":"s","type":"quantitative","title":"step number","scale":{"domain":[-0.86,11.83],"nice":false,"zero":false},"axis":{"orient":"top","values":[0,5,10]}},"y":{"field":"d","type":"quantitative","title":"displacement (m)","scale":{"domain":[-1.57,0.105],"nice":false,"zero":false},"axis":{"values":[0,-0.5,-1,-1.5],"format":".1f"}}},
"layer":[
{"data":{"name":"m2"},"transform":[{"fold":["G1","G2","G3"],"as":["g","d"]}],"mark":{"type":"line","strokeDash":[3,2],"strokeWidth":1,"clip":true},"encoding":{"detail":{"field":"g"}}},
{"data":{"name":"c4_2"},"transform":[{"fold":["G1","G2","G3"],"as":["g","d"]}],"mark":{"type":"line","strokeWidth":1.6,"clip":true},"encoding":{"detail":{"field":"g"}}},
{"data":{"name":"m2"},"transform":[{"fold":["G1","G2","G3"],"as":["g","d"]}],"mark":{"type":"point","fill":"white","stroke":"black","strokeWidth":1,"size":75,"clip":true},"encoding":{"shape":{"field":"g","type":"nominal","scale":{"domain":["G1","G2","G3"],"range":["square","circle","triangle-up"]},"legend":null}}},
{"data":{"name":"c4_2"},"transform":[{"fold":["G1","G2","G3"],"as":["g","d"]}],"mark":{"type":"point","filled":true,"size":110,"clip":true},"encoding":{"shape":{"field":"g","type":"nominal","scale":{"domain":["G1","G2","G3"],"range":["square","circle","triangle-up"]},"legend":null}}}
]},
{"mark":{"type":"text","text":"No.2のH鋼","font":"DejaVu Serif, Noto Sans CJK JP","fontSize":16,"fontWeight":"normal"},"encoding":{"x":{"datum":8.05},"y":{"datum":-0.08}}},
{"mark":{"type":"text","text":"measured","angle":270},"encoding":{"x":{"datum":0},"y":{"datum":-1.29}}},
{"mark":{"type":"text","text":"computed","angle":270},"encoding":{"x":{"datum":6.55},"y":{"datum":-1.29}}},
{"mark":{"type":"rule","strokeDash":[3,2]},"encoding":{"x":{"datum":0.54},"x2":{"datum":2.3},"y":{"datum":-1.155}}},
{"mark":{"type":"rule","strokeDash":[3,2]},"encoding":{"x":{"datum":0.54},"x2":{"datum":2.3},"y":{"datum":-1.29}}},
{"mark":{"type":"rule","strokeDash":[3,2]},"encoding":{"x":{"datum":0.54},"x2":{"datum":2.3},"y":{"datum":-1.43}}},
{"mark":{"type":"rule","strokeWidth":1.6},"encoding":{"x":{"datum":3.95},"x2":{"datum":5.9},"y":{"datum":-1.155}}},
{"mark":{"type":"rule","strokeWidth":1.6},"encoding":{"x":{"datum":3.95},"x2":{"datum":5.9},"y":{"datum":-1.29}}},
{"mark":{"type":"rule","strokeWidth":1.6},"encoding":{"x":{"datum":3.95},"x2":{"datum":5.9},"y":{"datum":-1.43}}},
{"mark":{"type":"point","shape":"square","fill":"white","stroke":"black","size":75},"encoding":{"x":{"datum":1.5},"y":{"datum":-1.155}}},
{"mark":{"type":"point","shape":"circle","fill":"white","stroke":"black","size":75},"encoding":{"x":{"datum":1.5},"y":{"datum":-1.29}}},
{"mark":{"type":"point","shape":"triangle-up","fill":"white","stroke":"black","size":75},"encoding":{"x":{"datum":1.5},"y":{"datum":-1.43}}},
{"mark":{"type":"point","shape":"square","filled":true,"size":110},"encoding":{"x":{"datum":4.9},"y":{"datum":-1.155}}},
{"mark":{"type":"point","shape":"circle","filled":true,"size":110},"encoding":{"x":{"datum":4.9},"y":{"datum":-1.29}}},
{"mark":{"type":"point","shape":"triangle-up","filled":true,"size":110},"encoding":{"x":{"datum":4.9},"y":{"datum":-1.43}}},
{"mark":{"type":"text","text":"G1"},"encoding":{"x":{"datum":3.06},"y":{"datum":-1.155}}},
{"mark":{"type":"text","text":"G2"},"encoding":{"x":{"datum":3.06},"y":{"datum":-1.29}}},
{"mark":{"type":"text","text":"G3"},"encoding":{"x":{"datum":3.06},"y":{"datum":-1.43}}}
]},
{"width":220,"height":219,"data":{"values":[{}]},
"layer":[
{"encoding":{"x":{"field":"s","type":"quantitative","title":"step number","scale":{"domain":[-0.77,11.72],"nice":false,"zero":false},"axis":{"orient":"top","values":[0,5,10]}},"y":{"field":"d","type":"quantitative","title":"displacement (m)","scale":{"domain":[-1.57,0.105],"nice":false,"zero":false},"axis":{"values":[0,-0.5,-1,-1.5],"format":".1f"}}},
"layer":[
{"data":{"name":"m5"},"transform":[{"fold":["G1","G2","G3"],"as":["g","d"]}],"mark":{"type":"line","strokeDash":[3,2],"strokeWidth":1,"clip":true},"encoding":{"detail":{"field":"g"}}},
{"data":{"name":"c4_5"},"transform":[{"fold":["G1","G2","G3"],"as":["g","d"]}],"mark":{"type":"line","strokeWidth":1.6,"clip":true},"encoding":{"detail":{"field":"g"}}},
{"data":{"name":"m5"},"transform":[{"fold":["G1","G2","G3"],"as":["g","d"]}],"mark":{"type":"point","fill":"white","stroke":"black","strokeWidth":1,"size":75,"clip":true},"encoding":{"shape":{"field":"g","type":"nominal","scale":{"domain":["G1","G2","G3"],"range":["square","circle","triangle-up"]},"legend":null}}},
{"data":{"name":"c4_5"},"transform":[{"fold":["G1","G2","G3"],"as":["g","d"]}],"mark":{"type":"point","filled":true,"size":110,"clip":true},"encoding":{"shape":{"field":"g","type":"nominal","scale":{"domain":["G1","G2","G3"],"range":["square","circle","triangle-up"]},"legend":null}}}
]},
{"mark":{"type":"text","text":"No.5のH鋼","font":"DejaVu Serif, Noto Sans CJK JP","fontSize":16,"fontWeight":"normal"},"encoding":{"x":{"datum":8.3},"y":{"datum":-0.085}}},
{"mark":{"type":"text","text":"measured","angle":270},"encoding":{"x":{"datum":0},"y":{"datum":-1.29}}},
{"mark":{"type":"text","text":"computed","angle":270},"encoding":{"x":{"datum":6.55},"y":{"datum":-1.29}}},
{"mark":{"type":"rule","strokeDash":[3,2]},"encoding":{"x":{"datum":0.6},"x2":{"datum":2.3},"y":{"datum":-1.155}}},
{"mark":{"type":"rule","strokeDash":[3,2]},"encoding":{"x":{"datum":0.6},"x2":{"datum":2.3},"y":{"datum":-1.29}}},
{"mark":{"type":"rule","strokeDash":[3,2]},"encoding":{"x":{"datum":0.6},"x2":{"datum":2.3},"y":{"datum":-1.43}}},
{"mark":{"type":"rule","strokeWidth":1.6},"encoding":{"x":{"datum":3.9},"x2":{"datum":6.0},"y":{"datum":-1.155}}},
{"mark":{"type":"rule","strokeWidth":1.6},"encoding":{"x":{"datum":3.9},"x2":{"datum":6.0},"y":{"datum":-1.29}}},
{"mark":{"type":"rule","strokeWidth":1.6},"encoding":{"x":{"datum":3.9},"x2":{"datum":6.0},"y":{"datum":-1.43}}},
{"mark":{"type":"point","shape":"square","fill":"white","stroke":"black","size":75},"encoding":{"x":{"datum":1.5},"y":{"datum":-1.155}}},
{"mark":{"type":"point","shape":"circle","fill":"white","stroke":"black","size":75},"encoding":{"x":{"datum":1.5},"y":{"datum":-1.29}}},
{"mark":{"type":"point","shape":"triangle-up","fill":"white","stroke":"black","size":75},"encoding":{"x":{"datum":1.5},"y":{"datum":-1.43}}},
{"mark":{"type":"point","shape":"square","filled":true,"size":110},"encoding":{"x":{"datum":4.9},"y":{"datum":-1.155}}},
{"mark":{"type":"point","shape":"circle","filled":true,"size":110},"encoding":{"x":{"datum":4.9},"y":{"datum":-1.29}}},
{"mark":{"type":"point","shape":"triangle-up","filled":true,"size":110},"encoding":{"x":{"datum":4.9},"y":{"datum":-1.43}}},
{"mark":{"type":"text","text":"G1"},"encoding":{"x":{"datum":3.1},"y":{"datum":-1.155}}},
{"mark":{"type":"text","text":"G2"},"encoding":{"x":{"datum":3.1},"y":{"datum":-1.29}}},
{"mark":{"type":"text","text":"G3"},"encoding":{"x":{"datum":3.1},"y":{"datum":-1.43}}}
]}
]}
]
}
